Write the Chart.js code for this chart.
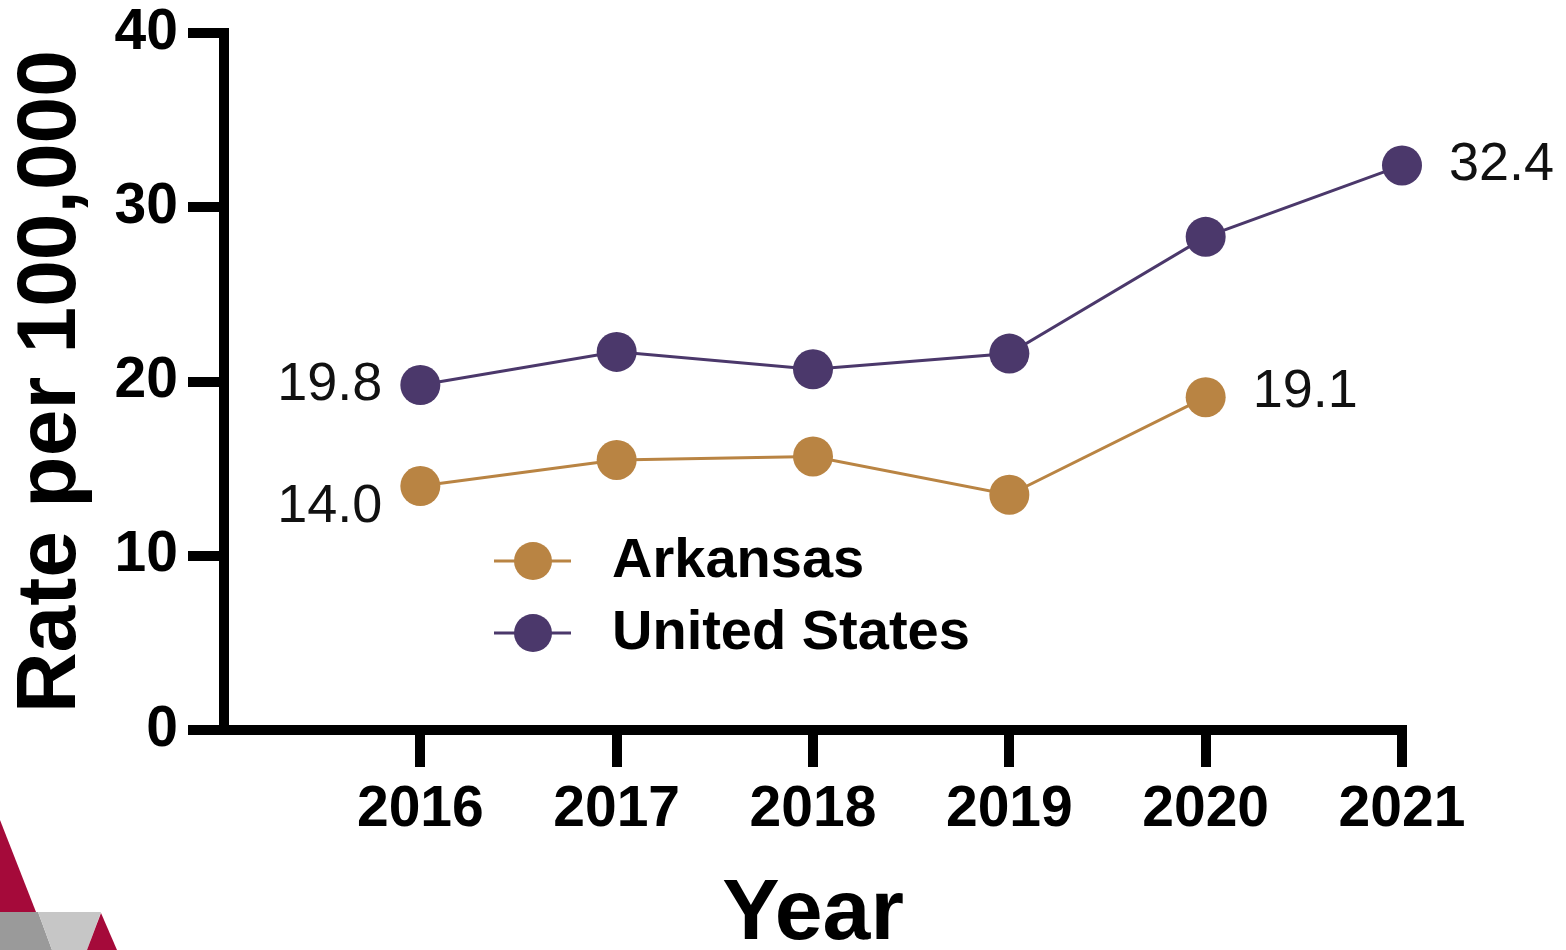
<!DOCTYPE html>
<html>
<head>
<meta charset="utf-8">
<title>Rate per 100,000</title>
<script src="https://cdn.jsdelivr.net/npm/chart.js@4.4.1/dist/chart.umd.min.js"></script>
<style>
  html, body { margin: 0; padding: 0; background: #fff; }
  #wrap { width: 1566px; height: 950px; }
</style>
</head>
<body>
<div id="wrap"><canvas id="chart-area" width="1566" height="950"></canvas></div>
<script>
'use strict';

// Data
var years = [2016, 2017, 2018, 2019, 2020, 2021];
var arkansas = [14.0, 15.5, 15.7, 13.5, 19.1, null];
var unitedStates = [19.8, 21.7, 20.7, 21.6, 28.3, 32.4];
var yTicks = [0, 10, 20, 30, 40];

var ORANGE = '#b98443';
var PURPLE = '#4b386b';
var FONT = '"Liberation Sans", Arial, sans-serif';

function toPoints(values){
  var out = [];
  values.forEach(function(v, i){
    if(v !== null) out.push({x: years[i], y: v});
  });
  return out;
}

// Value labels next to some points: [dataset, index, side, dy]
var valueLabels = [
  [1, 0, 'left', 0],
  [0, 0, 'left', 21],
  [0, 4, 'right', -5],
  [1, 5, 'right', 0]
];

var labelPlugin = {
  id: 'valueLabels',
  afterDatasetsDraw: function(chart){
    var ctx = chart.ctx;
    ctx.save();
    ctx.font = '54px ' + FONT;
    ctx.fillStyle = '#111';
    ctx.textBaseline = 'middle';
    valueLabels.forEach(function(l){
      var ds = chart.data.datasets[l[0]];
      var pt = chart.getDatasetMeta(l[0]).data[l[1]];
      var txt = ds.data[l[1]].y.toFixed(1);
      if(l[2] === 'left'){
        ctx.textAlign = 'right';
        ctx.fillText(txt, pt.x - 38, pt.y + l[3]);
      }else{
        ctx.textAlign = 'left';
        ctx.fillText(txt, pt.x + 47, pt.y + l[3]);
      }
    });
    ctx.restore();
  }
};

// Legend drawn inside the plot: line through a dot, bold name
var legendPlugin = {
  id: 'innerLegend',
  afterDraw: function(chart){
    var ctx = chart.ctx;
    var rows = [[0, 561], [1, 633]];
    ctx.save();
    rows.forEach(function(r){
      var ds = chart.data.datasets[r[0]];
      var y = r[1];
      ctx.strokeStyle = ds.borderColor;
      ctx.lineWidth = 3;
      ctx.beginPath();
      ctx.moveTo(494, y);
      ctx.lineTo(571, y);
      ctx.stroke();
      ctx.fillStyle = ds.pointBackgroundColor;
      ctx.beginPath();
      ctx.arc(533, y, 19, 0, Math.PI * 2);
      ctx.fill();
      ctx.fillStyle = '#000';
      ctx.font = 'bold 56px ' + FONT;
      ctx.textAlign = 'left';
      ctx.textBaseline = 'middle';
      ctx.fillText(ds.label, 612, y + 1);
    });
    ctx.restore();
  }
};

// Slide decoration in the lower left corner
var cornerPlugin = {
  id: 'corner',
  beforeDraw: function(chart){
    var ctx = chart.ctx;
    function poly(color, pts){
      ctx.fillStyle = color;
      ctx.beginPath();
      ctx.moveTo(pts[0][0], pts[0][1]);
      for(var i = 1; i < pts.length; i++) ctx.lineTo(pts[i][0], pts[i][1]);
      ctx.closePath();
      ctx.fill();
    }
    ctx.save();
    ctx.fillStyle = '#fff';
    ctx.fillRect(0, 0, chart.width, chart.height);
    poly('#a50a3a', [[0, 820], [36, 912], [0, 912]]);
    poly('#9a9a9a', [[0, 912], [38, 912], [52, 950], [0, 950]]);
    poly('#c6c6c6', [[38, 912], [101, 912], [87, 950], [52, 950]]);
    poly('#a50a3a', [[101, 913], [117, 950], [87, 950]]);
    ctx.restore();
  }
};

var config = {
  type: 'line',
  data: {
    datasets: [{
      label: 'Arkansas',
      data: toPoints(arkansas),
      borderColor: ORANGE,
      backgroundColor: ORANGE,
      pointBackgroundColor: ORANGE,
      pointBorderColor: ORANGE,
      borderWidth: 3,
      pointRadius: 20,
      pointBorderWidth: 0,
      clip: false
    }, {
      label: 'United States',
      data: toPoints(unitedStates),
      borderColor: PURPLE,
      backgroundColor: PURPLE,
      pointBackgroundColor: PURPLE,
      pointBorderColor: PURPLE,
      borderWidth: 3,
      pointRadius: 20,
      pointBorderWidth: 0,
      clip: false
    }]
  },
  options: {
    responsive: false,
    animation: false,
    layout: { padding: { top: 33, right: 164, left: 0, bottom: 0 } },
    plugins: {
      legend: { display: false },
      tooltip: { enabled: false }
    },
    scales: {
      x: {
        type: 'linear',
        min: 2015,
        max: 2021,
        afterBuildTicks: function(scale){
          scale.ticks = years.map(function(v){ return {value: v}; });
        },
        afterFit: function(scale){
          scale.height = 220;
          scale.paddingLeft = 0;
          scale.paddingRight = 0;
        },
        grid: { drawOnChartArea: false, tickLength: 37, lineWidth: 10, color: '#000' },
        border: { width: 10, color: '#000' },
        ticks: {
          color: '#000',
          padding: 9,
          font: { family: FONT, size: 57, weight: 'bold' },
          callback: function(v){ return String(v); }
        },
        title: {
          display: true,
          text: 'Year',
          color: '#000',
          font: { family: FONT, size: 86, weight: 'bold', lineHeight: 1 },
          padding: { top: 0, bottom: -8 }
        }
      },
      y: {
        min: 0,
        max: 40,
        afterBuildTicks: function(scale){
          scale.ticks = yTicks.map(function(v){ return {value: v}; });
        },
        afterFit: function(scale){
          scale.width = 224;
          scale.paddingTop = 0;
          scale.paddingBottom = 0;
        },
        grid: { drawOnChartArea: false, tickLength: 36, lineWidth: 10, color: '#000' },
        border: { width: 10, color: '#000' },
        ticks: {
          color: '#000',
          padding: 10,
          font: { family: FONT, size: 57, weight: 'bold' }
        },
        title: {
          display: true,
          text: 'Rate per 100,000',
          color: '#000',
          font: { family: FONT, size: 84, weight: 'bold', lineHeight: 1 },
          padding: { top: 10, bottom: 0 }
        }
      }
    }
  },
  plugins: [cornerPlugin, labelPlugin, legendPlugin]
};

var ctx = document.getElementById('chart-area').getContext('2d');
window.myLine = new Chart(ctx, config);
</script>
</body>
</html>
